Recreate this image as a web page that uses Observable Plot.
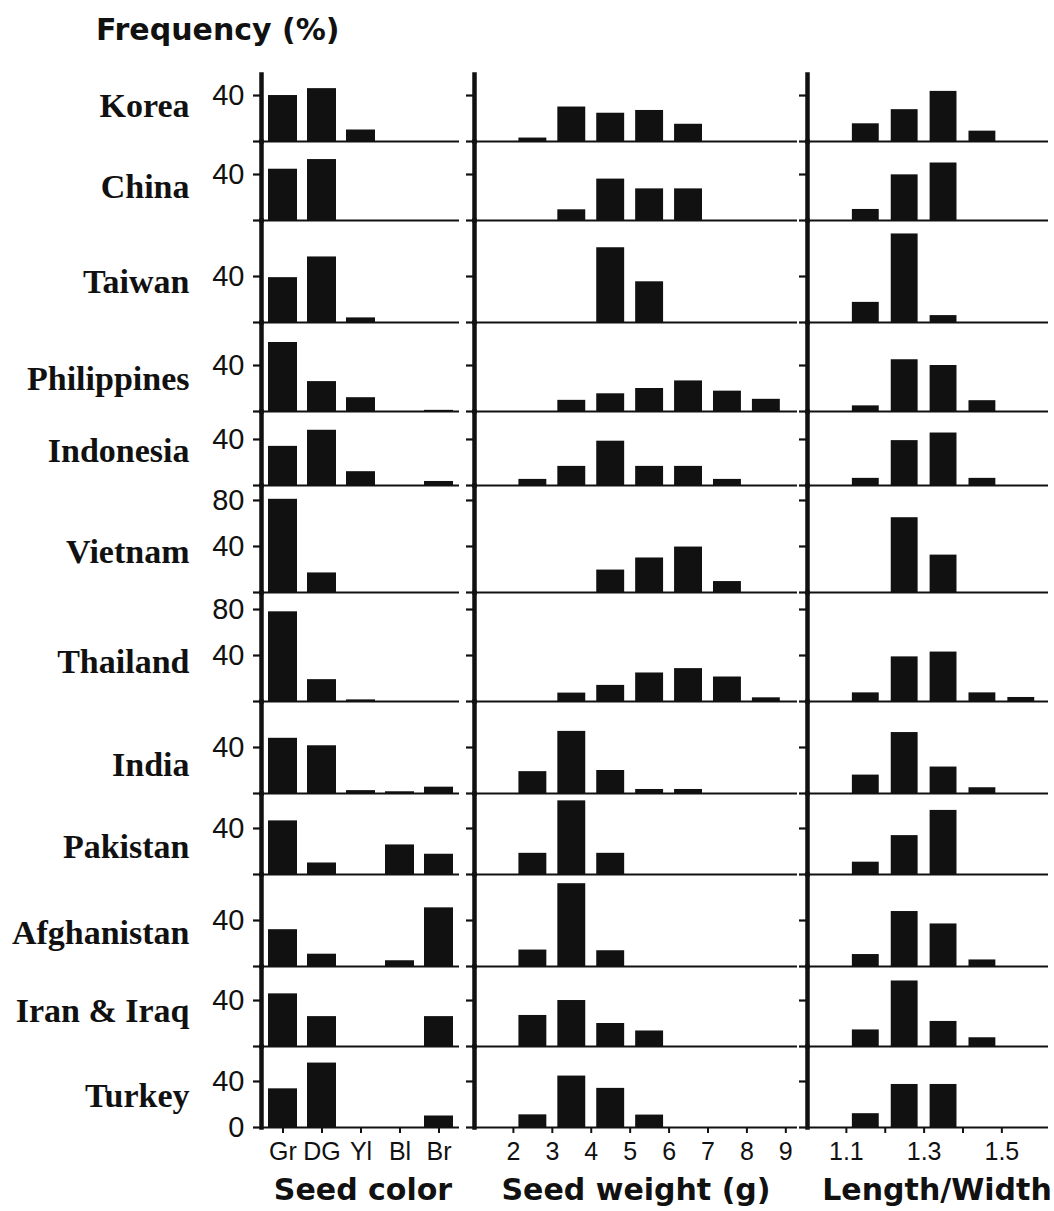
<!DOCTYPE html>
<html><head><meta charset="utf-8">
<script src="https://cdn.jsdelivr.net/npm/d3@7"></script>
<script src="https://cdn.jsdelivr.net/npm/@observablehq/plot@0.6"></script>
<style>
body{margin:0;background:#fff;}
#chart{position:relative;width:1054px;height:1211px;overflow:hidden;}
.ttl{position:absolute;font:bold 30px "DejaVu Sans",sans-serif;line-height:30px;white-space:nowrap;color:#111;}
.ctr{width:360px;text-align:center;}
</style></head><body><div id="chart"></div>
<script>
// ---- data ----
const countries = ["Korea","China","Taiwan","Philippines","Indonesia","Vietnam","Thailand","India","Pakistan","Afghanistan","Iran & Iraq","Turkey"];

const colorCats = ["Gr","DG","Yl","Bl","Br"];
const seedColor = [
  [40, 46, 10, 0, 0],
  [44.6, 53, 0, 0, 0],
  [39, 57, 4, 0, 0],
  [60, 26, 12, 0, 1],
  [34, 48, 12, 0, 3.5],
  [81, 17, 0, 0, 0],
  [78, 19, 1.4, 0, 0],
  [48, 41.5, 2.5, 1.5, 5.5],
  [46.6, 10, 0, 25.7, 17.6],
  [32, 10.7, 0, 5, 51],
  [45.8, 26, 0, 0, 26],
  [33.6, 56, 0, 0, 10]
];

const weightBins = [2, 3, 4, 5, 6, 7, 8];          // lower edge of each 1 g class
const weightTicks = [2, 3, 4, 5, 6, 7, 8, 9];
const seedWeight = [
  [3, 30, 24.6, 27, 15, 0, 0],
  [0, 9.3, 36, 27.5, 27.5, 0, 0],
  [0, 0, 65, 35.4, 0, 0, 0],
  [0, 9.7, 15.4, 20, 26.6, 17.7, 10.6],
  [5.3, 16.6, 38.5, 16.6, 16.6, 5.3, 0],
  [0, 0, 19.5, 30, 39.5, 9.5, 0],
  [0, 7.3, 14, 24.8, 28.6, 21.3, 3.2],
  [19, 54, 20, 3.5, 3.5, 0, 0],
  [18.4, 64, 18.4, 0, 0, 0, 0],
  [14.3, 72, 13.7, 0, 0, 0, 0],
  [27, 40, 20, 13.5, 0, 0, 0],
  [11, 44.7, 34, 10.8, 0, 0, 0]
];

const ratioBins = [1.1, 1.2, 1.3, 1.4, 1.5];       // lower edge of each 0.1 class
const ratioTicks = [1.1, 1.2, 1.3, 1.4, 1.5];
const ratioLabels = ["1.1", "1.3", "1.5"];
const lengthWidth = [
  [15.4, 27.7, 43.6, 9, 0],
  [9.6, 39.7, 50, 0, 0],
  [17.5, 77, 6, 0, 0],
  [4.9, 45, 40, 9.4, 0],
  [6.2, 39, 45.6, 6.2, 0],
  [0, 65, 32.5, 0, 0],
  [7.5, 38.8, 43, 7.5, 3.5],
  [16, 53, 23, 5, 0],
  [10.7, 33.8, 55.7, 0, 0],
  [10.4, 47.8, 37, 5.7, 0],
  [14.4, 57, 21.8, 7.6, 0],
  [12, 37.4, 37.4, 0, 0]
];

// y-axis extent (%) of each country's strip and its tick values
const rowMax = [58.3, 68.7, 88.7, 77.4, 64.3, 93, 94.8, 80, 70.4, 80, 69.6, 70.4];
const yTicks = [[0,40],[0,40],[0,40],[0,40],[0,40],[0,40,80],[0,40,80],[0,40],[0,40],[0,40],[0,40],[0,40]];
// where the country name sits (in % units of its strip)
const labelAt = [30.5, 29, 35, 28, 30, 35, 34, 25, 23.5, 29, 30.5, 27];

const axisTitles = ["Seed color", "Seed weight (g)", "Length/Width"];

// ---- layout ----
const PX = 1.15;        // pixels per percent
const TOP0 = 74;
const INK = "#111";
const sans = '"Liberation Sans", Arial, sans-serif';
const serif = '"Liberation Serif", "Times New Roman", serif';
const chart = document.getElementById("chart");

function place(el, left, y0) {
  el.style.position = "absolute";
  el.style.left = left + "px";
  el.style.top = y0 + "px";
  chart.appendChild(el);
}

let rowTop = TOP0;
countries.forEach((name, i) => {
  const last = i === countries.length - 1;
  const h = Math.round(rowMax[i] * PX);
  const mb = last ? 44 : 0;
  const common = {
    height: h + mb, marginTop: 0, marginBottom: mb,
    style: {overflow: "visible", background: "transparent", fontFamily: sans, color: INK}
  };
  const yScale = {domain: [0, rowMax[i]], axis: null, label: null};
  const yAxis = (fmt) => Plot.axisY({ticks: yTicks[i], tickSize: 8, tickPadding: 9, strokeWidth: 2.2,
    fontSize: 29, tickFormat: fmt, label: null});
  const xAxisOpts = {tickSize: 6, tickPadding: 9, strokeWidth: 2, fontSize: 25, label: null};

  // Seed color
  const c1 = seedColor[i].map((v, j) => ({cat: colorCats[j], v}));
  const p1 = Plot.plot({
    ...common, width: 460, marginLeft: 261, marginRight: 1,
    x: last ? {domain: colorCats, padding: 0, label: null} : {domain: colorCats, padding: 0, axis: null, label: null},
    y: yScale,
    marks: [
      Plot.barY(c1, {x: "cat", y: "v", fill: INK, insetLeft: 5, insetRight: 5}),
      Plot.ruleY([0], {stroke: INK, strokeWidth: 2.2}),
      Plot.frame({anchor: "left", stroke: INK, strokeWidth: 4.5}),
      yAxis(d => (d === 0 && !last) ? "" : String(d)),
      Plot.text([name], {y: labelAt[i], frameAnchor: "left", dx: -72, textAnchor: "end",
        fontFamily: serif, fontWeight: "bold", fontSize: 34, fill: INK}),
      last ? Plot.axisX(xAxisOpts) : null
    ]
  });
  place(p1, 0, rowTop);

  // Seed weight
  const c2 = seedWeight[i].map((v, j) => ({lo: weightBins[j], v}));
  const p2 = Plot.plot({
    ...common, width: 340, marginLeft: 14, marginRight: 3,
    x: last ? {domain: [1, 9.3], label: null} : {domain: [1, 9.3], axis: null, label: null},
    y: yScale,
    marks: [
      Plot.rectY(c2, {x1: "lo", x2: d => d.lo + 1, y: "v", fill: INK, insetLeft: 5.5, insetRight: 5.5}),
      Plot.ruleY([0], {stroke: INK, strokeWidth: 2.2}),
      Plot.frame({anchor: "left", stroke: INK, strokeWidth: 4.5}),
      yAxis(() => ""),
      last ? Plot.axisX({...xAxisOpts, ticks: weightTicks, tickFormat: d => String(d)}) : null
    ]
  });
  place(p2, 460, rowTop);

  // Length / Width
  const c3 = lengthWidth[i].map((v, j) => ({lo: ratioBins[j], v}));
  const p3 = Plot.plot({
    ...common, width: 254, marginLeft: 7, marginRight: 6,
    x: last ? {domain: [1.0, 1.62], label: null} : {domain: [1.0, 1.62], axis: null, label: null},
    y: yScale,
    marks: [
      Plot.rectY(c3, {x1: "lo", x2: d => d.lo + 0.1, y: "v", fill: INK, insetLeft: 6, insetRight: 6}),
      Plot.ruleY([0], {stroke: INK, strokeWidth: 2.2}),
      Plot.frame({anchor: "left", stroke: INK, strokeWidth: 4.5}),
      yAxis(() => ""),
      last ? Plot.axisX({...xAxisOpts, ticks: ratioTicks,
        tickFormat: d => ratioLabels.includes(d.toFixed(1)) ? d.toFixed(1) : ""}) : null
    ]
  });
  place(p3, 800, rowTop);

  rowTop += h;
});

// titles
const t = document.createElement("div");
t.className = "ttl"; t.textContent = "Frequency (%)";
t.style.left = "96px"; t.style.top = "15px";
chart.appendChild(t);

const centers = [363, 636, 937];
axisTitles.forEach((s, k) => {
  const d = document.createElement("div");
  d.className = "ttl ctr"; d.textContent = s;
  d.style.left = (centers[k] - 180) + "px"; d.style.top = "1175px";
  chart.appendChild(d);
});
</script>
</body></html>
